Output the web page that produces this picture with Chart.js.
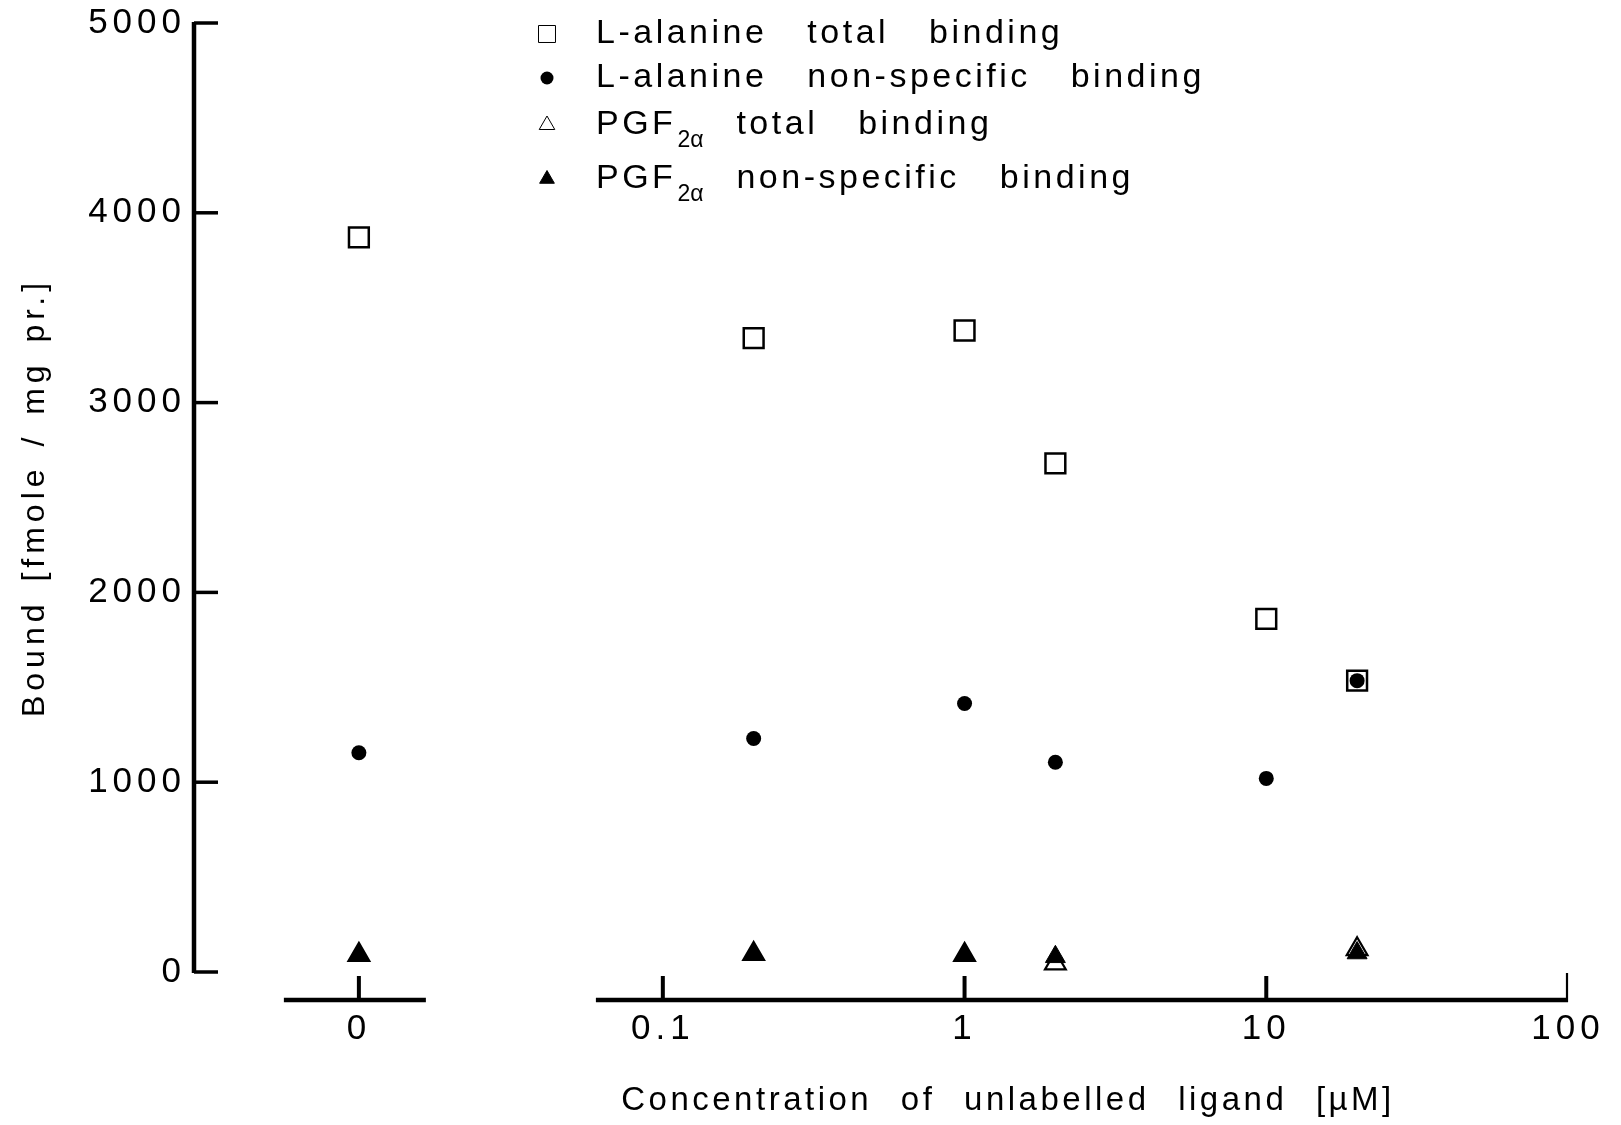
<!DOCTYPE html>
<html>
<head>
<meta charset="utf-8">
<script src="https://cdn.jsdelivr.net/npm/chart.js@4/dist/chart.umd.min.js"></script>
<style>
  html, body { margin: 0; padding: 0; background: #fff; }
  #wrap { width: 1621px; height: 1125px; }
</style>
</head>
<body>
<div id="wrap"><canvas id="c" width="1621" height="1125"></canvas></div>
<script>
// Concentration of unlabelled ligand (µM); 0 = no competitor added
const concAlanine = [0, 0.2, 1, 2, 10, 20];
const alanineTotal = [3870, 3340, 3380, 2680, 1860, 1535];
const alanineNonSpecific = [1155, 1230, 1415, 1105, 1020, 1535];

const concPgf = [0, 0.2, 1, 2, 20];
const pgfTotal = [90, 95, 90, 45, 120];
const pgfNonSpecific = [90, 95, 90, 80, 100];

const xTickValues = [0, 0.1, 1, 10, 100];
const xTickLabels = ['0', '0.1', '1', '10', '100'];
const yTickValues = [0, 1000, 2000, 3000, 4000, 5000];

// legend entries; _{...} marks a subscript
const seriesNames = [
  'L-alanine total binding',
  'L-alanine non-specific binding',
  'PGF_{2α} total binding',
  'PGF_{2α} non-specific binding'
];
const yTitle = 'Bound [fmole / mg pr.]';
const xTitle = 'Concentration of unlabelled ligand [µM]';

const FONT = "'Liberation Sans', Arial, Helvetica, sans-serif";

// Log axis with a separate stub for the zero concentration
class BrokenLogScale extends Chart.LogarithmicScale {
  parse(raw, index) {
    if (raw === 0 || raw === '0') return 0;
    return super.parse(raw, index);
  }
  getPixelForValue(value) {
    const o = this.options;
    if (value === 0) return this.getPixelForDecimal(o.zeroAt);
    if (value === null || value === undefined || isNaN(value)) return NaN;
    const lo = Math.log10(this.min), hi = Math.log10(this.max);
    const d = (Math.log10(value) - lo) / (hi - lo);
    return this.getPixelForDecimal(o.logStart + d * (1 - o.logStart));
  }
}
BrokenLogScale.id = 'brokenLog';
BrokenLogScale.defaults = Chart.LogarithmicScale.defaults;
Chart.register(BrokenLogScale);

const pts = (xs, ys) => xs.map((x, i) => ({ x: x, y: ys[i] }));

const datasets = [
  { label: seriesNames[0], data: pts(concAlanine, alanineTotal),
    pointStyle: 'rect', pointRadius: 14, pointBorderWidth: 2.5,
    pointBorderColor: '#000', pointBackgroundColor: 'rgba(0,0,0,0)',
    legendRadius: 12, order: 3 },
  { label: seriesNames[1], data: pts(concAlanine, alanineNonSpecific),
    pointStyle: 'circle', pointRadius: 7.5, pointBorderWidth: 0,
    pointBorderColor: '#000', pointBackgroundColor: '#000',
    legendRadius: 6.5, order: 2 },
  { label: seriesNames[2], data: pts(concPgf, pgfTotal),
    pointStyle: 'triangle', pointRadius: 12, pointBorderWidth: 2.2,
    pointBorderColor: '#000', pointBackgroundColor: '#fff',
    legendRadius: 9, order: 1 },
  { label: seriesNames[3], data: pts(concPgf, pgfNonSpecific),
    pointStyle: 'triangle', pointRadius: 11.5, pointBorderWidth: 1,
    pointBorderColor: '#000', pointBackgroundColor: '#000',
    legendRadius: 8.5, order: 0 }
];

function drawRichText(ctx, text, x, y, size) {
  // draws plain runs and _{subscript} runs left to right
  const parts = text.split(/(_\{[^}]*\})/).filter(s => s.length);
  let cx = x;
  parts.forEach(p => {
    if (p.startsWith('_{')) {
      const s = p.slice(2, -1);
      ctx.font = `${Math.round(size * 0.68)}px ${FONT}`;
      ctx.letterSpacing = '0px';
      ctx.fillText(s, cx + 1, y + size * 0.45);
      cx += ctx.measureText(s).width - 6;
      ctx.letterSpacing = '3.5px';
    } else {
      ctx.font = `${size}px ${FONT}`;
      ctx.fillText(p, cx, y);
      cx += ctx.measureText(p).width;
    }
  });
}

const axesPlugin = {
  id: 'brokenAxes',
  beforeDraw(chart) {
    const ctx = chart.ctx;
    ctx.letterSpacing = '5px';
    ctx.wordSpacing = '4px';
  },
  beforeDatasetsDraw(chart) {
    const { ctx, chartArea } = chart;
    const x = chart.scales.x, y = chart.scales.y;
    const line = (x1, y1, x2, y2) => { ctx.beginPath(); ctx.moveTo(x1, y1); ctx.lineTo(x2, y2); ctx.stroke(); };
    ctx.save();
    ctx.strokeStyle = '#000';
    ctx.lineCap = 'butt';

    // vertical axis with inward ticks
    const yx = chartArea.left;
    ctx.lineWidth = 4.5;
    line(yx, y.getPixelForValue(5000) - 1, yx, y.getPixelForValue(0) + 1);
    ctx.lineWidth = 3.5;
    yTickValues.forEach(v => {
      const py = y.getPixelForValue(v);
      line(yx, py, yx + 24, py);
    });

    // detached horizontal axis: stub for zero + logarithmic part
    const base = y.getPixelForValue(0) + 28;
    const z = x.getPixelForValue(0);
    ctx.lineWidth = 4.5;
    line(z - 75, base, z + 67, base);
    const xl = x.getPixelForValue(x.min), xr = x.getPixelForValue(x.max);
    line(xl, base, xr, base);
    ctx.lineWidth = 4;
    xTickValues.slice(0, 4).forEach(v => {
      const px = x.getPixelForValue(v);
      line(px, base, px, base - 24);
    });
    ctx.lineWidth = 2.2;
    line(xr - 1, base + 2, xr - 1, base - 27);
    ctx.restore();
  },
  afterDraw(chart) {
    const { ctx } = chart;
    ctx.save();
    ctx.fillStyle = '#000';
    ctx.textBaseline = 'middle';
    ctx.textAlign = 'left';
    ctx.letterSpacing = '3.5px';
    ctx.wordSpacing = '27px';

    // legend
    const rowsY = [34, 78, 125, 179];
    const markerX = 547, textX = 596;
    chart.data.datasets.forEach((ds, i) => {
      const yy = rowsY[i];
      ctx.save();
      ctx.strokeStyle = ds.pointBorderColor;
      ctx.fillStyle = ds.pointBackgroundColor;
      Chart.helpers.drawPoint(ctx, {
        pointStyle: ds.pointStyle, radius: ds.legendRadius,
        borderWidth: ds.pointBorderWidth ? 2 : 0, rotation: 0
      }, markerX, yy);
      ctx.restore();
      drawRichText(ctx, ds.label, textX, yy, 34);
    });

    // horizontal axis title
    ctx.font = `33px ${FONT}`;
    ctx.letterSpacing = '3.5px';
    ctx.wordSpacing = '16px';
    ctx.textAlign = 'center';
    ctx.fillText(xTitle, 1008, 1101);
    ctx.restore();
  }
};

new Chart(document.getElementById('c'), {
  type: 'scatter',
  data: { datasets: datasets },
  options: {
    responsive: false,
    animation: false,
    devicePixelRatio: 1,
    events: [],
    layout: { padding: { top: 23, right: 53, left: 0, bottom: 0 } },
    plugins: { legend: { display: false }, tooltip: { enabled: false } },
    scales: {
      x: {
        type: 'brokenLog',
        min: 0.06,
        max: 100,
        zeroAt: 0.12,
        logStart: 0.2925,
        bounds: 'data',
        grid: { display: false, drawTicks: false },
        border: { display: false },
        afterBuildTicks: s => { s.ticks = xTickValues.map(v => ({ value: v })); },
        afterFit: s => { s.height = 153; s.paddingLeft = 0; s.paddingRight = 0; },
        ticks: {
          autoSkip: false,
          maxRotation: 0,
          padding: 36,
          color: '#000',
          font: { family: FONT, size: 35 },
          callback: (v, i) => xTickLabels[i]
        }
      },
      y: {
        type: 'linear',
        min: 0,
        max: 5000,
        bounds: 'data',
        grid: { display: false, drawTicks: false },
        border: { display: false },
        afterBuildTicks: s => { s.ticks = yTickValues.map(v => ({ value: v })); },
        afterFit: s => { s.width = 194; s.paddingTop = 0; s.paddingBottom = 0; },
        ticks: {
          padding: 8,
          color: '#000',
          font: { family: FONT, size: 35 },
          callback: v => String(v)
        },
        title: {
          display: true,
          text: yTitle,
          color: '#000',
          font: { family: FONT, size: 32 },
          padding: { top: 16, bottom: 0 }
        }
      }
    }
  },
  plugins: [axesPlugin]
});
</script>
</body>
</html>
